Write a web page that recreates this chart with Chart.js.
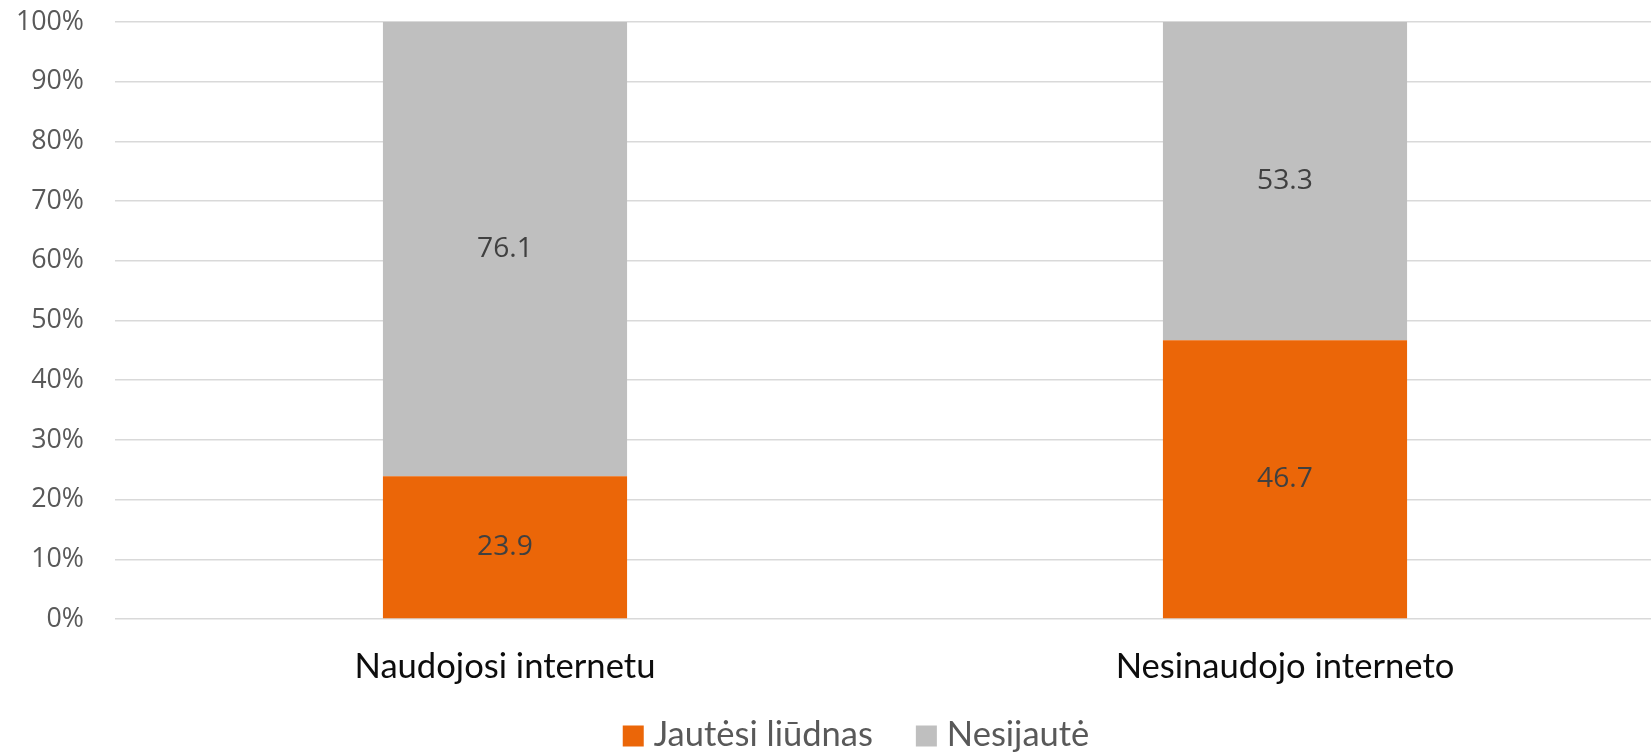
<!DOCTYPE html>
<html>
<head>
<meta charset="utf-8">
<script src="https://cdn.jsdelivr.net/npm/chart.js@4.4.0/dist/chart.umd.min.js"></script>
<style>
  html, body { margin: 0; padding: 0; overflow: hidden; background: #ffffff; width: 1651px; height: 754px; }
  #wrap { position: absolute; left: 0; top: 0; width: 1680px; height: 754px; }
</style>
</head>
<body>
<div id="wrap"><canvas id="c" width="1680" height="754"></canvas></div>
<script>
// ---- data ----
const categories = ['Naudojosi internetu', 'Nesinaudojo interneto'];
const seriesNames = ['Jautėsi liūdnas', 'Nesijautė'];
const sadValues = [23.9, 46.7];
const notSadValues = [76.1, 53.3];
const yTickValues = [0, 10, 20, 30, 40, 50, 60, 70, 80, 90, 100];

// ---- style ----
const ORANGE = '#EB6608';
const GREY = '#BFBFBF';
const SANS = '"Open Sans", "Noto Sans", sans-serif';
const HUMAN = 'Lato, "Open Sans", sans-serif';

function fitSize(text, family, target) {
  const ctx = document.createElement('canvas').getContext('2d');
  ctx.font = '100px ' + family;
  const w = ctx.measureText(text).width;
  return Math.round(100 * target / w * 10) / 10;
}
const xLabelSize = fitSize('Naudojosi internetu', HUMAN, 301);
const legendSize = fitSize('Jautėsi liūdnas', HUMAN, 219);
const yTickSize = fitSize('100%', SANS, 68);
const dataLabelSize = fitSize('23.9', SANS, 55.7);

const dataLabels = {
  id: 'dataLabels',
  afterDatasetsDraw(chart) {
    const ctx = chart.ctx;
    ctx.save();
    ctx.font = dataLabelSize + 'px ' + SANS;
    ctx.fillStyle = '#404040';
    ctx.textAlign = 'center';
    ctx.textBaseline = 'middle';
    chart.data.datasets.forEach((ds, di) => {
      const meta = chart.getDatasetMeta(di);
      meta.data.forEach((el, i) => {
        const p = el.getProps(['x', 'y', 'base'], true);
        ctx.fillText(ds.data[i].toFixed(1), p.x, (p.y + p.base) / 2);
      });
    });
    ctx.restore();
  }
};

const customLegend = {
  id: 'customLegend',
  afterDraw(chart, args, opts) {
    const ctx = chart.ctx;
    ctx.save();
    ctx.font = legendSize + 'px ' + HUMAN;
    const box = opts.box, gap = opts.gap, itemGap = opts.itemGap;
    const items = chart.data.datasets.map(d => ({ text: d.label, color: d.backgroundColor, w: ctx.measureText(d.label).width }));
    let total = 0;
    items.forEach((it, i) => { total += box + gap + it.w + (i < items.length - 1 ? itemGap : 0); });
    let x = opts.centerX - total / 2;
    items.forEach(it => {
      ctx.fillStyle = it.color;
      ctx.fillRect(x, opts.y - box / 2, box, box);
      x += box + gap;
      ctx.fillStyle = '#595959';
      ctx.textAlign = 'left';
      ctx.textBaseline = 'alphabetic';
      ctx.fillText(it.text, x, opts.baseline);
      x += it.w + itemGap;
    });
    ctx.restore();
  }
};

new Chart(document.getElementById('c'), {
  type: 'bar',
  data: {
    labels: categories,
    datasets: [
      { label: seriesNames[0], data: sadValues, backgroundColor: ORANGE, borderWidth: 0, categoryPercentage: 1, barPercentage: 0.313 },
      { label: seriesNames[1], data: notSadValues, backgroundColor: GREY, borderWidth: 0, categoryPercentage: 1, barPercentage: 0.313 }
    ]
  },
  options: {
    responsive: false,
    animation: false,
    devicePixelRatio: 1,
    layout: { padding: { top: 22, right: 5, left: 0, bottom: 0 } },
    plugins: {
      legend: { display: false },
      tooltip: { enabled: false },
      customLegend: { centerX: 856, y: 736, baseline: 746, box: 21, gap: 10, itemGap: 43 }
    },
    scales: {
      x: {
        stacked: true,
        grid: { display: false, drawTicks: false },
        border: { display: false },
        ticks: { color: '#0d0d0d', font: { family: HUMAN, size: xLabelSize }, padding: 27, maxRotation: 0 },
        afterFit(scale) { scale.height = 135; scale.paddingLeft = 0; scale.paddingRight = 0; }
      },
      y: {
        stacked: true,
        min: 0,
        max: 100,
        afterBuildTicks(scale) { scale.ticks = yTickValues.map(v => ({ value: v })); },
        grid: { color: '#D9D9D9', lineWidth: 1.5, drawTicks: false },
        border: { display: false },
        ticks: { color: '#595959', font: { family: SANS, size: yTickSize }, padding: 31, callback: v => v + '%' },
        afterFit(scale) { scale.width = 115; scale.paddingTop = 0; scale.paddingBottom = 0; }
      }
    }
  },
  plugins: [dataLabels, customLegend]
});
</script>
</body>
</html>
